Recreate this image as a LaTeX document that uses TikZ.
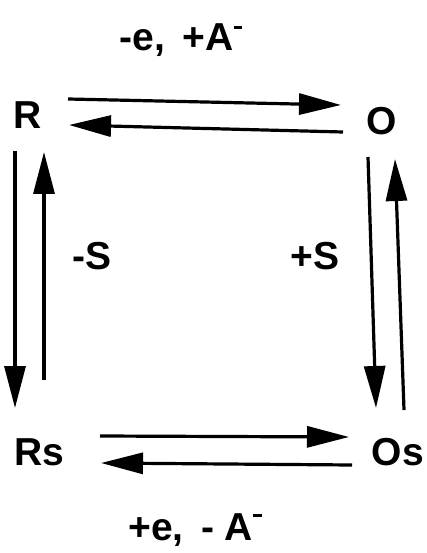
\documentclass[tikz,border=0pt]{standalone}
\usepackage{fontspec}
\setmainfont{Liberation Sans}
\usetikzlibrary{arrows.meta}
\begin{document}
\begin{tikzpicture}[x=1pt,y=-1pt,
  lbl/.style={font=\fontsize{39}{44}\selectfont\bfseries, inner sep=0pt, anchor=center},
  arr/.style={line width=3.2pt, -{Triangle[length=42pt,width=21pt]}}]
\useasboundingbox (0,0) rectangle (426,553);
\node[lbl] (R) at (28,115) {R};
\node[lbl] (O) at (382,121) {O};
\node[lbl] (Rs) at (39,452) {Rs};
\node[lbl] (Os) at (398,452) {Os};
\node[lbl] (top) at (181,40) {-e,\, +A\raisebox{0.55em}{\rule{0.22em}{0.08em}}};
\node[lbl] (bot) at (195,530) {+e,\, - A\raisebox{0.6em}{\rule{0.22em}{0.08em}}};
\node[lbl] (mS) at (92,256) {-S};
\node[lbl] (pS) at (315,256) {+S};
% endpoints
\coordinate (t1a) at (68,99);  \coordinate (t1b) at (341,105);
\coordinate (t2a) at (343,132); \coordinate (t2b) at (69,125);
\coordinate (l1a) at (15,151); \coordinate (l1b) at (15,408);
\coordinate (l2a) at (44,380); \coordinate (l2b) at (44,152);
\coordinate (r1a) at (368,157); \coordinate (r1b) at (376,408);
\coordinate (r2a) at (404,410); \coordinate (r2b) at (395,159);
\coordinate (b1a) at (100,436); \coordinate (b1b) at (349,437);
\coordinate (b2a) at (352,465); \coordinate (b2b) at (101,463);
\draw[arr] (t1a) -- (t1b);
\draw[arr] (t2a) -- (t2b);
\draw[arr] (l1a) -- (l1b);
\draw[arr] (l2a) -- (l2b);
\draw[arr] (r1a) -- (r1b);
\draw[arr] (r2a) -- (r2b);
\draw[arr] (b1a) -- (b1b);
\draw[arr] (b2a) -- (b2b);
\end{tikzpicture}
\end{document}
